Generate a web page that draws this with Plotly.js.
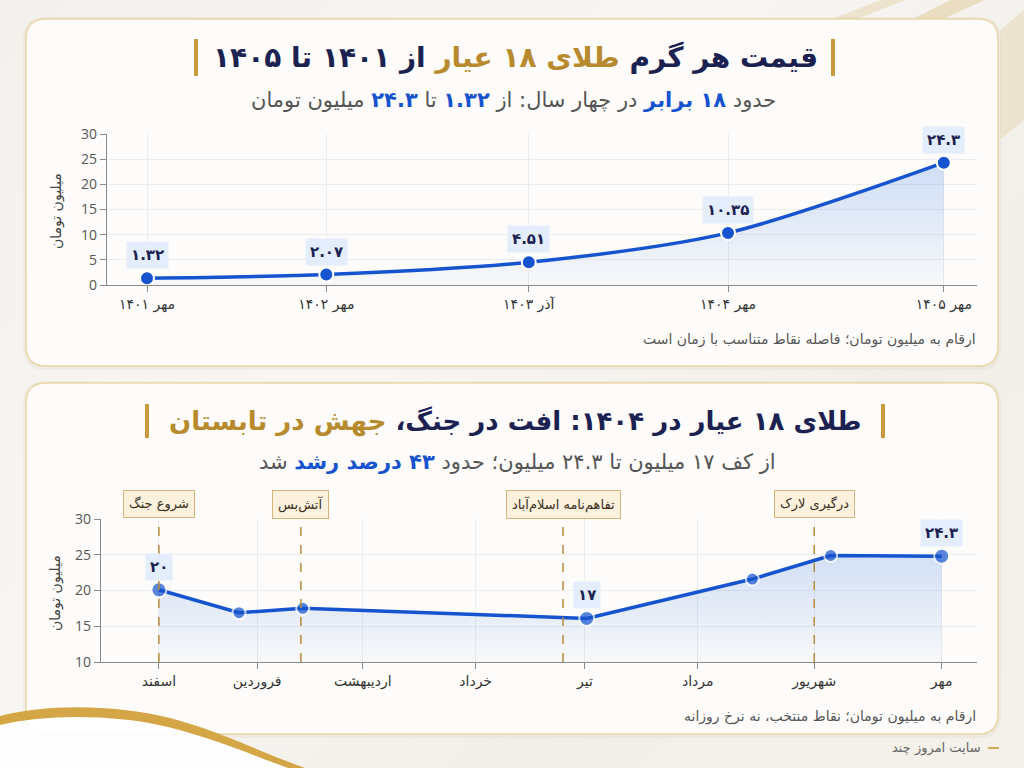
<!DOCTYPE html>
<html>
<head>
<meta charset="utf-8">
<script src="https://cdn.plot.ly/plotly-3.0.1.min.js"></script>
<style>
html,body{margin:0;padding:0;width:1024px;height:768px;overflow:hidden;
background:linear-gradient(135deg,#f3f1ec 0%,#f7f6f3 40%,#f2efe9 70%,#f4f1ea 100%);}
#chart{width:1024px;height:768px;}
</style>
</head>
<body>
<div id="chart"></div>
<script>
// ---- data: top chart (price per gram of 18k gold, million toman) ----
const topX = [0, 10.8, 23, 35, 48];
const topY = [1.32, 2.07, 4.51, 10.35, 24.3];
const topTicks = ['مهر ۱۴۰۱', 'مهر ۱۴۰۲', 'آذر ۱۴۰۳', 'مهر ۱۴۰۴', 'مهر ۱۴۰۵'];

// ---- data: bottom chart (1404 war period) ----
const monthX = [0, 27, 56, 87, 117, 148, 180, 215];
const monthTicks = ['اسفند', 'فروردین', 'اردیبهشت', 'خرداد', 'تیر', 'مرداد', 'شهریور', 'مهر'];
const warX = [0, 22, 39.5, 117.5, 163, 184.5, 215];
const warY = [20.1, 16.9, 17.5, 16.1, 21.6, 24.9, 24.8];
const warLabels = ['۲۰', '', '', '۱۷', '', '', '۲۴.۳'];
const eventX = [0, 39, 111, 180];
const eventNames = ['شروع جنگ', 'آتش‌بس', 'تفاهم‌نامه اسلام‌آباد', 'درگیری لارک'];

const W = 1024, H = 768;
const px = x => x / W;
const py = y => 1 - y / H;
const faDigits = '۰۱۲۳۴۵۶۷۸۹';
const toFa = v => String(v).replace(/[0-9]/g, d => faDigits[+d]);

const FONT = 'Open Sans, DejaVu Sans, sans-serif';
const FA = 'DejaVu Sans, sans-serif';
const BLUE = '#1553cf';
const NAVY = '#1b2150';
const GOLD = '#b88a2e';

function roundRect(x0, y0, x1, y1, r) {
  const rx = r / W, ry = r / H;
  const X0 = px(x0), X1 = px(x1), Y0 = py(y0), Y1 = py(y1);
  return `M${X0 + rx},${Y0} L${X1 - rx},${Y0} Q${X1},${Y0} ${X1},${Y0 - ry} ` +
    `L${X1},${Y1 + ry} Q${X1},${Y1} ${X1 - rx},${Y1} L${X0 + rx},${Y1} ` +
    `Q${X0},${Y1} ${X0},${Y1 + ry} L${X0},${Y0 - ry} Q${X0},${Y0} ${X0 + rx},${Y0} Z`;
}
function P(x, y) { return px(x) + ',' + py(y); }
function pts(list) {
  return list.map((p, i) => (i === 0 ? 'M' : 'L') + P(p[0], p[1])).join(' ');
}

const traces = [
  {
    x: topX, y: topY, xaxis: 'x', yaxis: 'y', type: 'scatter', mode: 'lines+markers',
    line: {color: BLUE, width: 3.5, shape: 'spline', smoothing: 0.8},
    marker: {size: 14, color: BLUE, line: {color: '#ffffff', width: 2}},
    fill: 'tozeroy',
    fillgradient: {type: 'vertical', colorscale: [[0, 'rgba(40,110,230,0.03)'], [1, 'rgba(40,110,230,0.22)']]},
    hoverinfo: 'skip', showlegend: false
  },
  {
    x: warX, y: warY, xaxis: 'x2', yaxis: 'y2', type: 'scatter', mode: 'lines+markers',
    line: {color: BLUE, width: 3.5},
    marker: {size: warLabels.map(l => l === '' ? 13 : 15), color: BLUE, line: {color: '#ffffff', width: 2}},
    fill: 'tozeroy',
    fillgradient: {type: 'vertical', start: 10, stop: 25, colorscale: [[0, 'rgba(40,110,230,0.03)'], [1, 'rgba(40,110,230,0.20)']]},
    hoverinfo: 'skip', showlegend: false
  }
];

const shapes = [
  // soft glow behind cards
  {type: 'path', xref: 'paper', yref: 'paper', path: roundRect(23, 17, 1001, 370, 22),
   fillcolor: 'rgba(200,185,150,0.12)', line: {width: 0}, layer: 'below'},
  {type: 'path', xref: 'paper', yref: 'paper', path: roundRect(23, 381, 1001, 738, 22),
   fillcolor: 'rgba(200,185,150,0.12)', line: {width: 0}, layer: 'below'},
  // cards
  {type: 'path', xref: 'paper', yref: 'paper', path: roundRect(26, 19, 998, 366, 20),
   fillcolor: '#fdfcfa', line: {color: '#e9d6a6', width: 1.5}, layer: 'below'},
  {type: 'path', xref: 'paper', yref: 'paper', path: roundRect(26, 383, 998, 734, 20),
   fillcolor: '#fdfcfa', line: {color: '#e9d6a6', width: 1.5}, layer: 'below'},
  // decorative gold swirl bottom-left
  {type: 'path', xref: 'paper', yref: 'paper', layer: 'below', line: {width: 0},
   fillcolor: 'rgba(255,255,255,0.9)',
   path: 'M' + P(0, 724) + ' C' + P(50, 714) + ' ' + P(120, 714) + ' ' + P(170, 726) +
     ' C' + P(220, 738) + ' ' + P(250, 752) + ' ' + P(290, 768) + ' L' + P(0, 768) + ' Z'},
  {type: 'path', xref: 'paper', yref: 'paper', layer: 'below', line: {width: 0},
   fillcolor: '#d4a646',
   path: 'M' + P(0, 716) + ' C' + P(45, 704) + ' ' + P(115, 704) + ' ' + P(170, 718) +
     ' C' + P(220, 731) + ' ' + P(260, 752) + ' ' + P(305, 768) + ' L' + P(288, 768) +
     ' C' + P(250, 754) + ' ' + P(215, 739) + ' ' + P(168, 727) +
     ' C' + P(115, 714) + ' ' + P(45, 714) + ' ' + P(0, 725) + ' Z'},
  // top-right light streaks
  {type: 'path', xref: 'paper', yref: 'paper', layer: 'below', line: {width: 0},
   fillcolor: 'rgba(222,196,140,0.35)', path: pts([[880, 0], [905, 0], [860, 18], [835, 18]]) + ' Z'},
  {type: 'path', xref: 'paper', yref: 'paper', layer: 'below', line: {width: 0},
   fillcolor: 'rgba(222,196,140,0.45)', path: pts([[950, 0], [985, 0], [945, 18], [915, 18]]) + ' Z'},
  {type: 'path', xref: 'paper', yref: 'paper', layer: 'below', line: {width: 0},
   fillcolor: 'rgba(222,196,140,0.3)', path: pts([[1000, 30], [1024, 10], [1024, 120], [1000, 140]]) + ' Z'},
  // title gold bars
  {type: 'rect', xref: 'paper', yref: 'paper', x0: px(194), x1: px(198), y0: py(76), y1: py(39), fillcolor: '#c99a3e', line: {width: 0}},
  {type: 'rect', xref: 'paper', yref: 'paper', x0: px(831), x1: px(835), y0: py(76), y1: py(39), fillcolor: '#c99a3e', line: {width: 0}},
  {type: 'rect', xref: 'paper', yref: 'paper', x0: px(145), x1: px(149), y0: py(438), y1: py(404), fillcolor: '#c99a3e', line: {width: 0}},
  {type: 'rect', xref: 'paper', yref: 'paper', x0: px(881), x1: px(885), y0: py(438), y1: py(404), fillcolor: '#c99a3e', line: {width: 0}},
  // footer dash
  {type: 'line', xref: 'paper', yref: 'paper', x0: px(988), x1: px(999), y0: py(748), y1: py(748), line: {color: '#d2aa55', width: 2}}
];

// event dashed lines
eventX.forEach(ex => shapes.push({
  type: 'line', xref: 'x2', yref: 'paper', x0: ex, x1: ex, y0: py(662), y1: py(517),
  line: {color: '#b98a3c', width: 1.5, dash: 'dash'}
}));

const annotations = [
  {xref: 'paper', yref: 'paper', x: px(515), y: py(57), xanchor: 'center', yanchor: 'middle', showarrow: false,
   text: '<b>قیمت هر گرم <span style="color:' + GOLD + '">طلای ۱۸ عیار</span> از ۱۴۰۱ تا ۱۴۰۵</b>',
   font: {family: FA, size: 28, color: NAVY}},
  {xref: 'paper', yref: 'paper', x: px(513), y: py(100), xanchor: 'center', yanchor: 'middle', showarrow: false,
   text: 'حدود <b><span style="color:' + BLUE + '">۱۸ برابر</span></b> در چهار سال: از <b><span style="color:' + BLUE + '">۱.۳۲</span></b> تا <b><span style="color:' + BLUE + '">۲۴.۳</span></b> میلیون تومان',
   font: {family: FA, size: 21, color: '#555555'}},
  {xref: 'paper', yref: 'paper', x: px(978), y: py(340), xanchor: 'right', yanchor: 'middle', showarrow: false,
   text: 'ارقام به میلیون تومان؛ فاصله نقاط متناسب با زمان است', font: {family: FA, size: 14, color: '#555555'}},
  {xref: 'paper', yref: 'paper', x: px(57), y: py(211), xanchor: 'center', yanchor: 'middle', showarrow: false, textangle: -90,
   text: 'میلیون تومان', font: {family: FA, size: 14, color: '#444444'}},
  {xref: 'paper', yref: 'paper', x: px(515), y: py(421), xanchor: 'center', yanchor: 'middle', showarrow: false,
   text: '<b>طلای ۱۸ عیار در ۱۴۰۴: افت در جنگ، <span style="color:' + GOLD + '">جهش در تابستان</span></b>',
   font: {family: FA, size: 26, color: NAVY}},
  {xref: 'paper', yref: 'paper', x: px(517), y: py(462), xanchor: 'center', yanchor: 'middle', showarrow: false,
   text: 'از کف ۱۷ میلیون تا ۲۴.۳ میلیون؛ حدود <b><span style="color:' + BLUE + '">۴۳ درصد رشد</span></b> شد',
   font: {family: FA, size: 21, color: '#555555'}},
  {xref: 'paper', yref: 'paper', x: px(978), y: py(716), xanchor: 'right', yanchor: 'middle', showarrow: false,
   text: 'ارقام به میلیون تومان؛ نقاط منتخب، نه نرخ روزانه', font: {family: FA, size: 14, color: '#555555'}},
  {xref: 'paper', yref: 'paper', x: px(55), y: py(593), xanchor: 'center', yanchor: 'middle', showarrow: false, textangle: -90,
   text: 'میلیون تومان', font: {family: FA, size: 14, color: '#444444'}},
  {xref: 'paper', yref: 'paper', x: px(983), y: py(748), xanchor: 'right', yanchor: 'middle', showarrow: false,
   text: 'سایت امروز چند', font: {family: FA, size: 13, color: '#666666'}}
];

// value labels, top chart
topX.forEach((xv, i) => annotations.push({
  xref: 'x', yref: 'y', x: xv, y: topY[i], yshift: 23, showarrow: false,
  text: '<b>' + toFa(topY[i]) + '</b>', font: {family: FA, size: 15, color: NAVY},
  bgcolor: '#e4edfb', borderpad: 4
}));
// value labels, bottom chart
warX.forEach((xv, i) => {
  if (warLabels[i] === '') return;
  annotations.push({
    xref: 'x2', yref: 'y2', x: xv, y: warY[i], yshift: 23, showarrow: false,
    text: '<b>' + warLabels[i] + '</b>', font: {family: FA, size: 15, color: NAVY},
    bgcolor: '#e4edfb', borderpad: 4
  });
});
// event labels
eventX.forEach((ex, i) => annotations.push({
  xref: 'x2', yref: 'paper', x: ex, y: py(504), yanchor: 'middle', showarrow: false,
  text: eventNames[i], font: {family: FA, size: 13, color: '#3a2e1c'},
  bgcolor: '#fbf1dd', bordercolor: '#d6b47a', borderwidth: 1, borderpad: 5
}));

const axCommon = {
  showline: true, linecolor: '#8a8a8a', linewidth: 1.2,
  ticks: 'outside', ticklen: 6, tickcolor: '#8a8a8a',
  showgrid: true, gridcolor: '#ececec', gridwidth: 1, zeroline: false,
  automargin: false, fixedrange: true
};

const layout = {
  width: W, height: H,
  margin: {l: 0, r: 0, t: 0, b: 0},
  paper_bgcolor: 'rgba(0,0,0,0)', plot_bgcolor: 'rgba(0,0,0,0)',
  font: {family: FONT, color: '#333333'},
  showlegend: false,
  xaxis: Object.assign({}, axCommon, {
    domain: [px(107), px(977)], range: [-2.41, 50], anchor: 'y',
    tickmode: 'array', tickvals: topX, ticktext: topTicks,
    tickfont: {family: FA, size: 14, color: '#333333'}
  }),
  yaxis: Object.assign({}, axCommon, {
    domain: [py(285), py(134)], range: [0, 30], anchor: 'x',
    tickmode: 'array', tickvals: [0, 5, 10, 15, 20, 25, 30],
    tickfont: {family: FONT, size: 14, color: '#555555'}
  }),
  xaxis2: Object.assign({}, axCommon, {
    domain: [px(101), px(977)], range: [-15.9, 224.7], anchor: 'y2',
    tickmode: 'array', tickvals: monthX, ticktext: monthTicks,
    tickfont: {family: FA, size: 14, color: '#333333'}
  }),
  yaxis2: Object.assign({}, axCommon, {
    domain: [py(662), py(519)], range: [10, 30], anchor: 'x2',
    tickmode: 'array', tickvals: [10, 15, 20, 25, 30],
    tickfont: {family: FONT, size: 14, color: '#555555'}
  }),
  shapes: shapes,
  annotations: annotations
};

Plotly.newPlot('chart', traces, layout, {displayModeBar: false, staticPlot: true});
</script>
</body>
</html>
